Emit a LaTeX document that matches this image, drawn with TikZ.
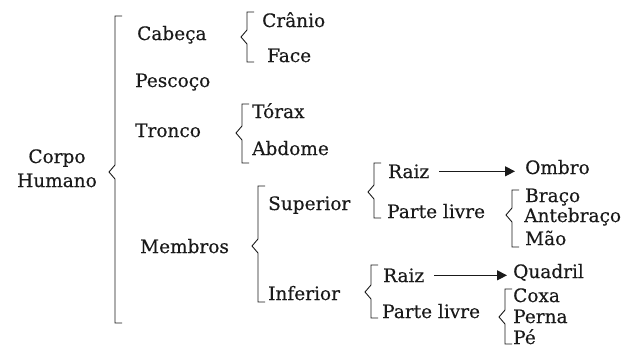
\documentclass[tikz,border=0pt]{standalone}
\usepackage{fontspec}
\setmainfont[FakeBold=0.4]{DejaVu Serif}
\usepackage{tikz}
\usetikzlibrary{arrows.meta}
\definecolor{ink}{HTML}{1A1A1A}
\tikzstyle{word} = [inner sep=0pt, anchor=base west, text=ink, font=\fontsize{18.5}{22}\selectfont]
\tikzstyle{brk} = [draw=ink, line width=0.9pt, line join=miter]
\tikzstyle{arrow} = [-{Triangle[length=10pt,width=10pt]}, draw=ink, fill=ink, line width=1.1pt]
\newcommand{\bracket}[4]% #1 = x, #2 = top, #3 = bottom, #4 = notch
{\draw [brk] (#1+7,#2) -- (#1,#2) -- (#1,#4-7) -- (#1-6,#4) -- (#1,#4+7) -- (#1,#3) -- (#1+7,#3);}

\begin{document}
\begin{tikzpicture}[x=1pt,y=-1pt]
		\useasboundingbox (0,0) rectangle (636,348);
		% root
		\node (corpo) [word,anchor=base] at (57,163) {Corpo};
		\node (humano) [word,anchor=base] at (57,187) {Humano};
		% first level
		\node (cabeca) [word] at (137,40) {Cabeça};
		\node (pescoco) [word] at (135,87) {Pescoço};
		\node (tronco) [word] at (135,137) {Tronco};
		\node (membros) [word] at (140,253) {Membros};
		% head and trunk
		\node (cranio) [word] at (262,27) {Crânio};
		\node (face) [word] at (267,62) {Face};
		\node (torax) [word] at (252,118) {Tórax};
		\node (abdome) [word] at (252,155) {Abdome};
		% limbs
		\node (superior) [word] at (268,210) {Superior};
		\node (inferior) [word] at (268,300) {Inferior};
		\node (raiz-sup) [word] at (388,178) {Raiz};
		\node (ombro) [word] at (525,174) {Ombro};
		\node (livre-sup) [word] at (387,218) {Parte livre};
		\node (braco) [word] at (525,202) {Braço};
		\node (antebraco) [word] at (524,222) {Antebraço};
		\node (mao) [word] at (525,245) {Mão};
		\node (raiz-inf) [word] at (383,282) {Raiz};
		\node (quadril) [word] at (513,278) {Quadril};
		\node (livre-inf) [word] at (382,318) {Parte livre};
		\node (coxa) [word] at (513,302) {Coxa};
		\node (perna) [word] at (513,323) {Perna};
		\node (pe) [word] at (513,344) {Pé};
		
		\bracket{115}{16}{323}{172}
		\bracket{247}{12}{62}{37}
		\bracket{242}{104}{163}{133}
		\bracket{258}{186}{302}{246}
		\bracket{374}{163}{218}{192}
		\bracket{512}{190}{247}{215}
		\bracket{371}{265}{318}{292}
		\bracket{505}{289}{344}{317}
		
		\draw [arrow, shorten <=10pt, shorten >=10pt] (raiz-sup.east) -- (raiz-sup.east -| ombro.west);
		\draw [arrow, shorten <=10pt, shorten >=6pt] (raiz-inf.east) -- (raiz-inf.east -| quadril.west);
	\end{tikzpicture}
\end{document}
